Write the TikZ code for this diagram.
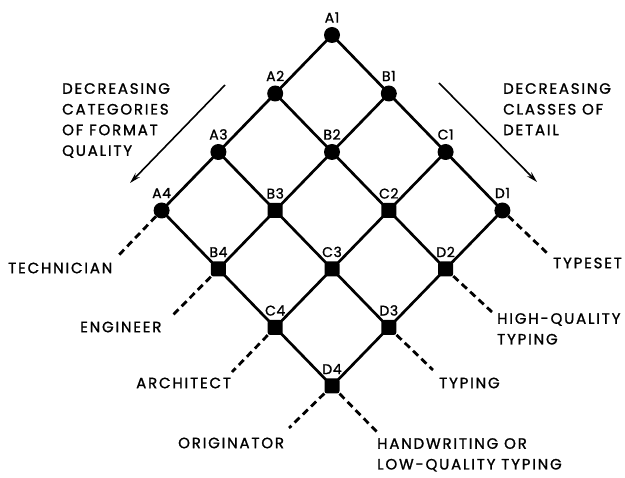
\documentclass[tikz,border=0pt]{standalone}
\usepackage{fontspec}
\setmainfont{Poppins}
\newfontfamily\gfont{Poppins}[FakeBold=1.2,LetterSpace=12]
\newfontfamily\lfont{Poppins}[FakeBold=1.2,LetterSpace=4]
\usetikzlibrary{arrows.meta}
\begin{document}
\begin{tikzpicture}[x=1pt,y=-1pt,
  dotc/.style={circle,fill=black,inner sep=0pt,minimum size=16pt},
  dots/.style={rectangle,rounded corners=2.5pt,fill=black,inner sep=0pt,minimum size=15pt},
  lab/.style={font=\lfont\fontsize{14}{14}\selectfont,inner sep=1pt},
  txt/.style={font=\gfont\fontsize{15}{20.7}\selectfont,inner sep=0pt,align=left},
  edge/.style={line width=2.7pt},
  dline/.style={line width=2.8pt,dash pattern=on 7pt off 4.5pt},
  dirarrow/.style={line width=1.6pt,-{Stealth[length=11pt,width=6pt]}}]
\useasboundingbox (0,0) rectangle (625,478);
\def\dx{56.8}\def\dy{58.5}
% nodes
\foreach \L/\l in {A/0,B/1,C/2,D/3}{
  \foreach \k in {1,2,3,4}{
    \pgfmathsetmacro\px{332+(\l-(\k-1))*\dx}
    \pgfmathsetmacro\py{35+(\l+\k-1)*\dy}
    \pgfmathtruncatemacro\s{\l+\k}
    \pgfmathtruncatemacro\edgecase{(\s==4)&&((\l==0)||(\l==3))}
    \ifnum\s<4
      \node[dotc,label={[lab,label distance=3pt]above:\L\k}] (\L\k) at (\px,\py) {};
    \else\ifnum\edgecase=1
      \node[dotc,label={[lab,label distance=3pt]above:\L\k}] (\L\k) at (\px,\py) {};
    \else
      \node[dots,label={[lab,label distance=3pt]above:\L\k}] (\L\k) at (\px,\py) {};
    \fi\fi
  }
}
% grid edges
\foreach \L/\M in {A/B,B/C,C/D}{
  \foreach \k in {1,2,3,4}{ \draw[edge] (\L\k.center) -- (\M\k.center); }
}
\foreach \L in {A,B,C,D}{
  \foreach \k/\j in {1/2,2/3,3/4}{ \draw[edge] (\L\k.center) -- (\L\j.center); }
}
% dashed leads
\coordinate (eA4) at (117,257);
\coordinate (eB4) at (173,315);
\coordinate (eC4) at (232,372);
\coordinate (eD4l) at (289,428);
\coordinate (eD4r) at (377,432);
\coordinate (eD3) at (433,370);
\coordinate (eD2) at (492,312);
\coordinate (eD1) at (547,253);
\draw[dline] (A4) -- (eA4);
\draw[dline] (B4) -- (eB4);
\draw[dline] (C4) -- (eC4);
\draw[dline] (D4) -- (eD4l);
\draw[dline] (D4) -- (eD4r);
\draw[dline] (D3) -- (eD3);
\draw[dline] (D2) -- (eD2);
\draw[dline] (D1) -- (eD1);
% end labels
\node[txt,anchor=west] (tech) at (8,268) {TECHNICIAN};
\node[txt,anchor=west] (eng) at (80,327) {ENGINEER};
\node[txt,anchor=west] (arch) at (136,383) {ARCHITECT};
\node[txt,anchor=west] (orig) at (178,443) {ORIGINATOR};
\node[txt,anchor=north west] (hand) at (377,438) {HANDWRITING OR\\LOW-QUALITY TYPING};
\node[txt,anchor=west] (typ) at (439,383) {TYPING};
\node[txt,anchor=north west] (hq) at (497,313) {HIGH-QUALITY\\TYPING};
\node[txt,anchor=west] (tset) at (553,263) {TYPESET};
% direction arrows
\coordinate (la1) at (225,85);
\coordinate (la2) at (130,183);
\coordinate (ra1) at (439,83);
\coordinate (ra2) at (537,182);
\draw[dirarrow] (la1) -- (la2);
\draw[dirarrow] (ra1) -- (ra2);
\node[txt,anchor=north west] (lt) at (62,83) {DECREASING\\CATEGORIES\\OF FORMAT\\QUALITY};
\node[txt,anchor=north west] (rt) at (503,83) {DECREASING\\CLASSES OF\\DETAIL};
\end{tikzpicture}
\end{document}
